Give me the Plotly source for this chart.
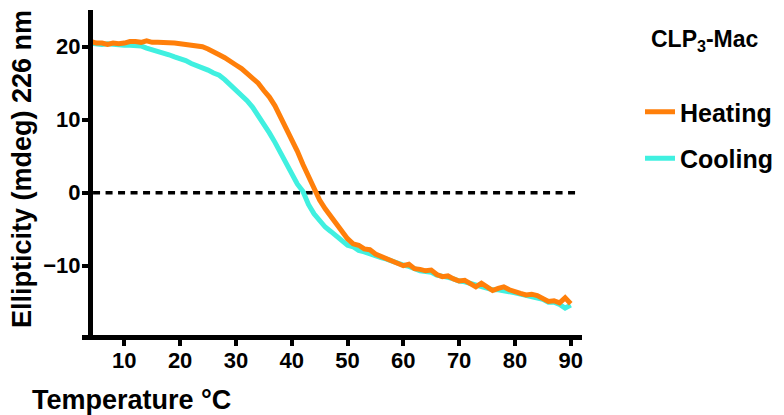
import plotly.graph_objects as go

temperature = list(range(4, 91))

heating = [
    20.7, 20.5, 20.5, 20.3, 20.5, 20.4, 20.5, 20.7, 20.7, 20.6,   # 4-13
    20.8, 20.6, 20.6, 20.6, 20.5, 20.5, 20.4, 20.3, 20.1, 20.0,   # 14-23
    20.0, 19.7, 19.2, 18.9, 18.5, 17.9, 17.5, 17.0, 16.4, 15.7,   # 24-33
    15.0, 14.0, 13.1, 11.9, 10.4, 9.0, 7.2, 5.7, 3.9, 2.3,        # 34-43
    0.6, -1.0, -2.2, -3.3, -4.3, -5.2, -6.3, -7.0, -7.2, -7.7,    # 44-53
    -7.8, -8.4, -8.7, -9.0, -9.3, -9.6, -10.0, -9.8, -10.4, -10.5,  # 54-63
    -10.7, -10.6, -11.2, -11.5, -11.4, -11.8, -12.1, -12.0, -12.4, -12.9,  # 64-73
    -12.4, -13.0, -13.4, -13.1, -12.9, -13.3, -13.6, -13.8, -14.0, -13.9,  # 74-83
    -14.1, -14.5, -14.9, -14.8, -15.1, -14.4, -15.2,               # 84-90
]

cooling = [
    20.5, 20.4, 20.3, 20.4, 20.3, 20.3, 20.2, 20.2, 20.2, 20.1,   # 4-13
    19.8, 19.6, 19.4, 19.2, 18.9, 18.6, 18.4, 18.1, 17.7, 17.4,   # 14-23
    17.2, 16.8, 16.4, 16.1, 15.5, 14.8, 14.2, 13.5, 12.6, 11.7,   # 24-33
    10.6, 9.4, 8.2, 6.9, 5.5, 4.1, 2.6, 1.2, 0.2, -1.6,           # 34-43
    -2.9, -3.9, -4.7, -5.3, -5.9, -6.5, -7.2, -7.4, -7.9, -8.1,   # 44-53
    -8.4, -8.6, -8.9, -9.1, -9.4, -9.7, -9.9, -10.1, -10.4, -10.7,  # 54-63
    -10.8, -10.9, -11.3, -11.4, -11.6, -11.8, -12.1, -12.2, -12.4, -12.7,  # 64-73
    -12.9, -13.1, -13.3, -13.3, -13.4, -13.5, -13.7, -13.9, -14.1, -14.2,  # 74-83
    -14.4, -14.6, -15.0, -15.0, -15.3, -15.8, -15.4,               # 84-90
]

zero_line_x = [4.4, 91.3]
zero_line_y = [0, 0]

x_ticks = [10, 20, 30, 40, 50, 60, 70, 80, 90]
y_ticks = [-10, 0, 10, 20]

ORANGE = "#FF7F0A"
CYAN = "#40F0E0"
FONT = "Liberation Sans, Arial, sans-serif"

# The page body has an 8px default margin, so the figure is sized to fit the
# 784x415 window after that offset. Helpers map window pixels to paper coords.
PL, PT, PW, PH = 93.0, 10.0, 489.0, 325.0


def xp(px):
    return (px - PL) / PW


def yp(py):
    return 1 - (py - PT) / PH


fig = go.Figure()

fig.add_trace(go.Scatter(
    x=zero_line_x, y=zero_line_y, mode="lines",
    line=dict(color="black", width=3.5, dash="7px,5.5px"),
    showlegend=False, hoverinfo="skip",
))
fig.add_trace(go.Scatter(
    x=temperature, y=cooling, mode="lines", name="Cooling",
    line=dict(color=CYAN, width=5), legendgroup="c", legendrank=2,
))
fig.add_trace(go.Scatter(
    x=temperature, y=heating, mode="lines", name="Heating",
    line=dict(color=ORANGE, width=5), legendgroup="h", legendrank=1,
))

axis_common = dict(
    showline=True, linecolor="black", linewidth=5,
    ticks="outside", ticklen=6, tickwidth=4, tickcolor="black",
    showgrid=False, zeroline=False,
    tickfont=dict(family=FONT, size=22, color="black", weight="bold"),
)

fig.update_xaxes(range=[4.39, 92.02], tickvals=x_ticks, ticklabelstandoff=-4, **axis_common)
fig.update_yaxes(range=[-19.49, 25.03], tickvals=y_ticks, ticklabelstandoff=-3, **axis_common)

fig.update_layout(
    width=776, height=407,
    margin=dict(l=85, r=202, t=2, b=80, autoexpand=False),
    plot_bgcolor="white", paper_bgcolor="white",
    showlegend=True,
    legend=dict(
        x=xp(640), y=yp(89), xanchor="left", yanchor="top",
        font=dict(family=FONT, size=25, color="black", weight="bold"),
        tracegroupgap=11, bgcolor="rgba(0,0,0,0)",
    ),
    shapes=[
        dict(type="line", xref="paper", yref="paper",
             x0=xp(82), x1=0, y0=-2.5 / PH, y1=-2.5 / PH,
             line=dict(color="black", width=5)),
    ],
    annotations=[
        dict(text="Temperature °C", xref="paper", yref="paper",
             x=xp(131.5), y=yp(400),
             xanchor="center", yanchor="middle", showarrow=False,
             font=dict(family=FONT, size=27, color="black", weight="bold")),
        dict(text="Ellipticity (mdeg) 226 nm", xref="paper", yref="paper",
             x=xp(22), y=yp(169), textangle=-90,
             xanchor="center", yanchor="middle", showarrow=False,
             font=dict(family=FONT, size=27, color="black", weight="bold")),
        dict(text="CLP<sub>3</sub>-Mac", xref="paper", yref="paper",
             x=xp(704.5), y=yp(40),
             xanchor="center", yanchor="middle", showarrow=False,
             font=dict(family=FONT, size=23, color="black", weight="bold")),
    ],
)

fig.write_html("out.html")
